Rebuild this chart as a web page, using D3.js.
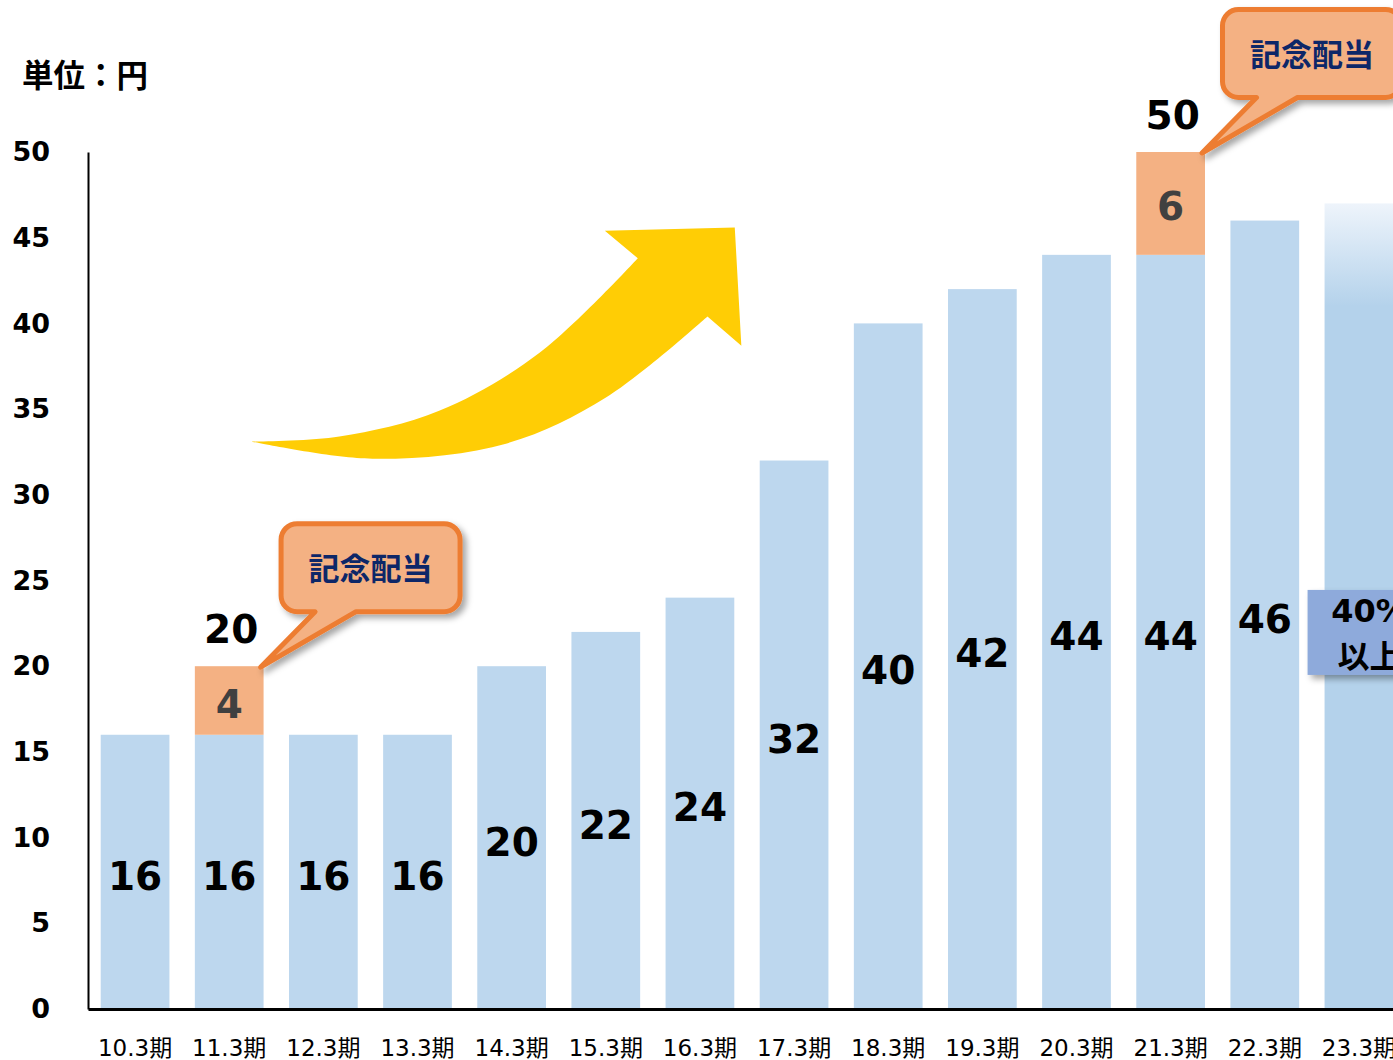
<!DOCTYPE html>
<html>
<head>
<meta charset="utf-8">
<script src="https://cdn.jsdelivr.net/npm/d3@7"></script>
<style>
  body { margin: 0; background: #fff; }
  svg { display: block; }
</style>
</head>
<body>
<svg id="chart"></svg>
<script>
// data
const periods = ["10.3期", "11.3期", "12.3期", "13.3期", "14.3期", "15.3期", "16.3期",
                 "17.3期", "18.3期", "19.3期", "20.3期", "21.3期", "22.3期", "23.3期"];
const ordinaryDividend = [16, 16, 16, 16, 20, 22, 24, 32, 40, 42, 44, 44, 46, 47];
const commemorativeDividend = [0, 4, 0, 0, 0, 0, 0, 0, 0, 0, 0, 6, 0, 0];
const isForecast = [false, false, false, false, false, false, false,
                    false, false, false, false, false, false, true];
const yTicks = [0, 5, 10, 15, 20, 25, 30, 35, 40, 45, 50];
const unitLabel = "単位：円";
const calloutText = "記念配当";
const forecastText = ["40%", "以上"];
// arrow outline in (bar index, value) units
const arrowUpper = [[1.24, 33.1], [2.17, 33.4], [3.23, 34.9], [4.30, 38.3], [5.34, 43.8]];
const arrowHead = [[4.99, 45.4], [6.37, 45.6], [6.44, 38.7], [6.08, 40.4]];
const arrowLower = [[6.08, 40.4], [5.01, 35.7], [3.95, 33.0], [2.52, 32.1], [1.24, 33.1]];

document.addEventListener("DOMContentLoaded", function() {
    const width = 1393;
    const height = 1060;

    const svg = d3.select("#chart")
        .attr("width", width)
        .attr("height", height);

    const defs = svg.append("defs");

    // soft shadow used by callouts
    defs.append("filter")
        .attr("id", "shadow")
        .attr("x", "-20%").attr("y", "-20%")
        .attr("width", "150%").attr("height", "160%")
        .append("feDropShadow")
        .attr("dx", 4).attr("dy", 4)
        .attr("stdDeviation", 3)
        .attr("flood-color", "#000")
        .attr("flood-opacity", 0.35);

    const x = d3.scaleBand()
        .domain(periods)
        .range([88, 1406])
        .paddingInner(0.27)
        .paddingOuter(0.135);

    const y = d3.scaleLinear()
        .domain([0, 50])
        .range([1009, 152]);

    const bw = x.bandwidth();
    const cx = i => x(periods[i]) + bw / 2;
    const step = x.step();
    const px = p => [cx(0) + p[0] * step, y(p[1])];

    // forecast bar gradient (fades out at the top)
    const fi = isForecast.indexOf(true);
    const grad = defs.append("linearGradient")
        .attr("id", "fadeBar")
        .attr("gradientUnits", "userSpaceOnUse")
        .attr("x1", 0).attr("x2", 0)
        .attr("y1", y(ordinaryDividend[fi]))
        .attr("y2", y(ordinaryDividend[fi] - 6));
    grad.append("stop").attr("offset", 0).attr("stop-color", "#eef4fb");
    grad.append("stop").attr("offset", 1).attr("stop-color", "#b4d2eb");

    // yellow growth arrow
    const curve = d3.line().curve(d3.curveCatmullRom.alpha(0.5));
    const upperPath = curve(arrowUpper.map(px));
    const headPath = arrowHead.map(p => "L" + px(p).join(",")).join("");
    const lowerPath = curve(arrowLower.map(px)).replace(/^M/, "L");
    svg.append("path")
        .attr("d", upperPath + headPath + lowerPath + "Z")
        .attr("fill", "#ffcd05");

    // ordinary dividend bars
    svg.selectAll(".bar")
        .data(periods)
        .enter()
        .append("rect")
        .attr("class", "bar")
        .attr("x", d => x(d))
        .attr("width", bw)
        .attr("y", (d, i) => y(ordinaryDividend[i]))
        .attr("height", (d, i) => y(0) - y(ordinaryDividend[i]))
        .attr("fill", (d, i) => isForecast[i] ? "url(#fadeBar)" : "#bdd7ee");

    // commemorative dividend segments
    const extra = periods.map((p, i) => ({ p, i, v: commemorativeDividend[i] })).filter(d => d.v > 0);

    svg.selectAll(".extra")
        .data(extra)
        .enter()
        .append("rect")
        .attr("class", "extra")
        .attr("x", d => x(d.p))
        .attr("width", bw)
        .attr("y", d => y(ordinaryDividend[d.i] + d.v))
        .attr("height", d => y(ordinaryDividend[d.i]) - y(ordinaryDividend[d.i] + d.v))
        .attr("fill", "#f4b183");

    const valueFont = "'DejaVu Sans', Verdana, sans-serif";

    // labels inside ordinary bars
    svg.selectAll(".val")
        .data(periods.filter((p, i) => !isForecast[i]))
        .enter()
        .append("text")
        .attr("x", (d, i) => cx(i))
        .attr("y", (d, i) => (y(ordinaryDividend[i]) + y(0)) / 2 + 4)
        .attr("dy", "0.36em")
        .attr("text-anchor", "middle")
        .attr("font-family", valueFont)
        .attr("font-weight", "bold")
        .attr("font-size", 39)
        .attr("fill", "#000")
        .text((d, i) => ordinaryDividend[i]);

    // labels inside commemorative segments
    svg.selectAll(".extraVal")
        .data(extra)
        .enter()
        .append("text")
        .attr("x", d => cx(d.i))
        .attr("y", d => (y(ordinaryDividend[d.i] + d.v) + y(ordinaryDividend[d.i])) / 2 + 3)
        .attr("dy", "0.36em")
        .attr("text-anchor", "middle")
        .attr("font-family", valueFont)
        .attr("font-weight", "bold")
        .attr("font-size", 39)
        .attr("fill", "#404040")
        .text(d => d.v);

    // totals above stacked bars
    svg.selectAll(".total")
        .data(extra)
        .enter()
        .append("text")
        .attr("x", d => cx(d.i) + 2)
        .attr("y", d => y(ordinaryDividend[d.i] + d.v) - 23)
        .attr("text-anchor", "middle")
        .attr("font-family", valueFont)
        .attr("font-weight", "bold")
        .attr("font-size", 39)
        .attr("fill", "#000")
        .text(d => ordinaryDividend[d.i] + d.v);

    // callouts pointing at commemorative segments
    const boxW = 179, boxH = 88, r = 16;
    extra.forEach(d => {
        const tx = x(d.p) + bw - 3;
        const ty = y(ordinaryDividend[d.i] + d.v) + 1;
        const x0 = tx + 20.5, x1 = x0 + boxW;
        const y1 = ty - 55.5, y0 = y1 - boxH;
        const b1 = x0 + 34, b2 = x0 + 75;
        const path = `M${x0 + r},${y0}H${x1 - r}A${r},${r} 0 0 1 ${x1},${y0 + r}` +
            `V${y1 - r}A${r},${r} 0 0 1 ${x1 - r},${y1}H${b2}L${tx},${ty}L${b1},${y1}` +
            `H${x0 + r}A${r},${r} 0 0 1 ${x0},${y1 - r}V${y0 + r}A${r},${r} 0 0 1 ${x0 + r},${y0}Z`;
        const g = svg.append("g").attr("filter", "url(#shadow)");
        g.append("path")
            .attr("d", path)
            .attr("fill", "#f4b183")
            .attr("stroke", "#ed7d31")
            .attr("stroke-width", 5)
            .attr("stroke-linejoin", "round");
        svg.append("text")
            .attr("x", (x0 + x1) / 2)
            .attr("y", (y0 + y1) / 2 + 1)
            .attr("dy", "0.36em")
            .attr("text-anchor", "middle")
            .attr("font-family", "'Noto Sans CJK JP', sans-serif")
            .attr("font-weight", "bold")
            .attr("font-size", 31)
            .attr("fill", "#0d2768")
            .text(calloutText);
    });

    // forecast payout ratio box
    const fx = x(periods[fi]) - 17;
    const fy = y(22);
    svg.append("rect")
        .attr("x", fx)
        .attr("y", fy - 42)
        .attr("width", 124)
        .attr("height", 85)
        .attr("fill", "#8eaadb")
        .attr("filter", "url(#shadow)");
    svg.selectAll(".fc")
        .data(forecastText)
        .enter()
        .append("text")
        .attr("x", fx + 62)
        .attr("y", (d, i) => fy - 10 + i * 46)
        .attr("text-anchor", "middle")
        .attr("font-family", "'DejaVu Sans', 'Noto Sans CJK JP', sans-serif")
        .attr("font-weight", "bold")
        .attr("font-size", 32)
        .attr("fill", "#000")
        .text(d => d);

    // axes
    const yAxis = svg.append("g")
        .attr("transform", "translate(88,0)")
        .call(d3.axisLeft(y).tickValues(yTicks).tickSize(0).tickPadding(38));
    yAxis.select(".domain").attr("stroke", "#000").attr("stroke-width", 2);
    yAxis.selectAll("text")
        .attr("font-family", valueFont)
        .attr("font-weight", "bold")
        .attr("font-size", 27)
        .attr("fill", "#000");

    const xAxis = svg.append("g")
        .attr("transform", `translate(0,${y(0)})`)
        .call(d3.axisBottom(x).tickSize(0).tickSizeOuter(0).tickPadding(31));
    xAxis.select(".domain").attr("stroke", "#000").attr("stroke-width", 3);
    xAxis.selectAll("text")
        .attr("font-family", "'DejaVu Sans', 'Noto Sans CJK JP', sans-serif")
        .attr("font-size", 23)
        .attr("fill", "#000");

    // unit label
    svg.append("text")
        .attr("x", 22)
        .attr("y", 87)
        .attr("font-family", "'Noto Sans CJK JP', sans-serif")
        .attr("font-weight", "bold")
        .attr("font-size", 31.5)
        .attr("fill", "#000")
        .text(unitLabel);
});
</script>
</body>
</html>
